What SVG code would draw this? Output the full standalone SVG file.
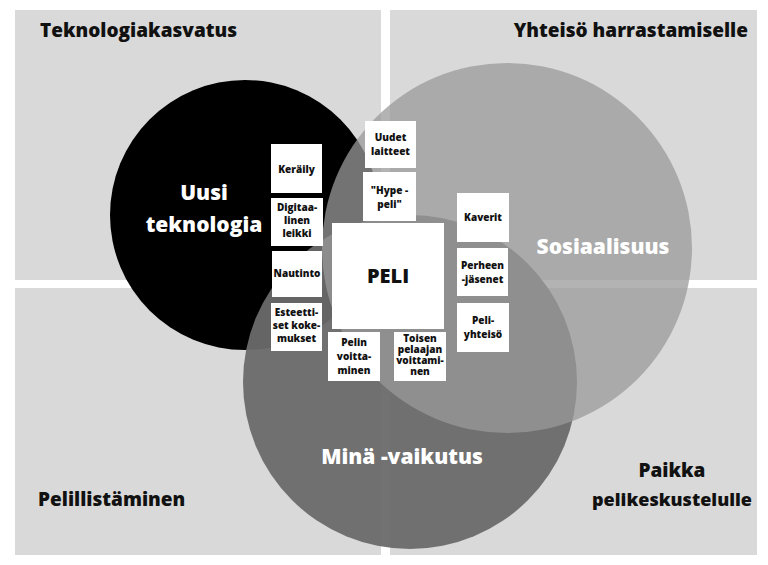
<svg xmlns="http://www.w3.org/2000/svg" width="768" height="565" viewBox="0 0 768 565">
<style>
.q{fill:#d9d9d9}
.t{font-family:"Open Sans","DejaVu Sans",sans-serif;font-weight:800}
.h{font-size:19px;fill:#111}
.c{font-size:20px;fill:#fff;text-anchor:middle}
.b{fill:#fff}
.s{font-size:10px;fill:#111;text-anchor:middle}
</style>
<rect width="768" height="565" fill="#fff"/>
<g id="quadrants">
<rect class="q" x="15" y="10" width="366" height="270"/>
<rect class="q" x="390" y="10" width="367" height="270"/>
<rect class="q" x="15" y="288" width="366" height="267"/>
<rect class="q" x="390" y="288" width="367" height="267"/>
</g>
<g class="t h">
<text x="40" y="37">Teknologiakasvatus</text>
<text x="748" y="37" text-anchor="end">Yhteisö harrastamiselle</text>
<text x="38" y="506">Pelillistäminen</text>
<text x="672" y="477" text-anchor="middle">Paikka</text>
<text x="672" y="506" text-anchor="middle" font-size="18">pelikeskustelulle</text>
</g>
<g id="circles">
<circle id="tech" cx="245" cy="215" r="135" fill="#000"/>
<circle id="mina" cx="410" cy="382" r="167" fill="#6a6a6a" fill-opacity="0.95"/>
<circle id="sos" cx="507" cy="248" r="185" fill="#9a9a9a" fill-opacity="0.75"/>
</g>
<g class="t c">
<text x="204" y="200" font-size="21">Uusi</text>
<text x="204" y="232" font-size="21">teknologia</text>
<text x="603" y="254" font-size="21">Sosiaalisuus</text>
<text x="402" y="464" font-size="21">Minä -vaikutus</text>
</g>
<g id="boxes" class="t">
<g id="n-keraily"><rect class="b" x="271" y="144" width="51" height="49"/><text class="s" x="296.5" y="173">Keräily</text></g>
<g id="n-digi"><rect class="b" x="271" y="198" width="52" height="48"/><text class="s" x="297" y="211">Digitaa-</text><text class="s" x="297" y="224">linen</text><text class="s" x="297" y="237">leikki</text></g>
<g id="n-nautinto"><rect class="b" x="272" y="251" width="50" height="46"/><text class="s" x="297" y="277">Nautinto</text></g>
<g id="n-esteet"><rect class="b" x="271" y="303" width="51" height="48"/><text class="s" x="296.5" y="316">Esteetti-</text><text class="s" x="296.5" y="329">set koke-</text><text class="s" x="296.5" y="342">mukset</text></g>
<g id="n-uudet"><rect class="b" x="365" y="121" width="51" height="47"/><text class="s" x="390.5" y="141">Uudet</text><text class="s" x="390.5" y="155">laitteet</text></g>
<g id="n-hype"><rect class="b" x="363" y="172" width="53" height="49"/><text class="s" x="389.5" y="194">"Hype -</text><text class="s" x="389.5" y="208">peli"</text></g>
<g id="n-peli"><rect class="b" x="332" y="223" width="112" height="106"/><text class="t" x="388" y="283" font-size="20" text-anchor="middle" fill="#111">PELI</text></g>
<g id="n-kaverit"><rect class="b" x="457" y="193" width="52" height="49"/><text class="s" x="483" y="221">Kaverit</text></g>
<g id="n-perheen"><rect class="b" x="457" y="248" width="51" height="48"/><text class="s" x="482.5" y="269">Perheen</text><text class="s" x="482.5" y="283">-jäsenet</text></g>
<g id="n-peliyht"><rect class="b" x="457" y="303" width="52" height="49"/><text class="s" x="483" y="324">Peli-</text><text class="s" x="483" y="338">yhteisö</text></g>
<g id="n-pelin"><rect class="b" x="328" y="332" width="52" height="49"/><text class="s" x="354" y="346">Pelin</text><text class="s" x="354" y="360">voitta-</text><text class="s" x="354" y="374">minen</text></g>
<g id="n-toisen"><rect class="b" x="394" y="332" width="52" height="49"/><text class="s" x="420" y="342" font-size="7">Toisen</text><text class="s" x="420" y="353" font-size="7">pelaajan</text><text class="s" x="420" y="364" font-size="7">voittami-</text><text class="s" x="420" y="375" font-size="7">nen</text></g>
</g>
<g id="connectors"/>
</svg>
